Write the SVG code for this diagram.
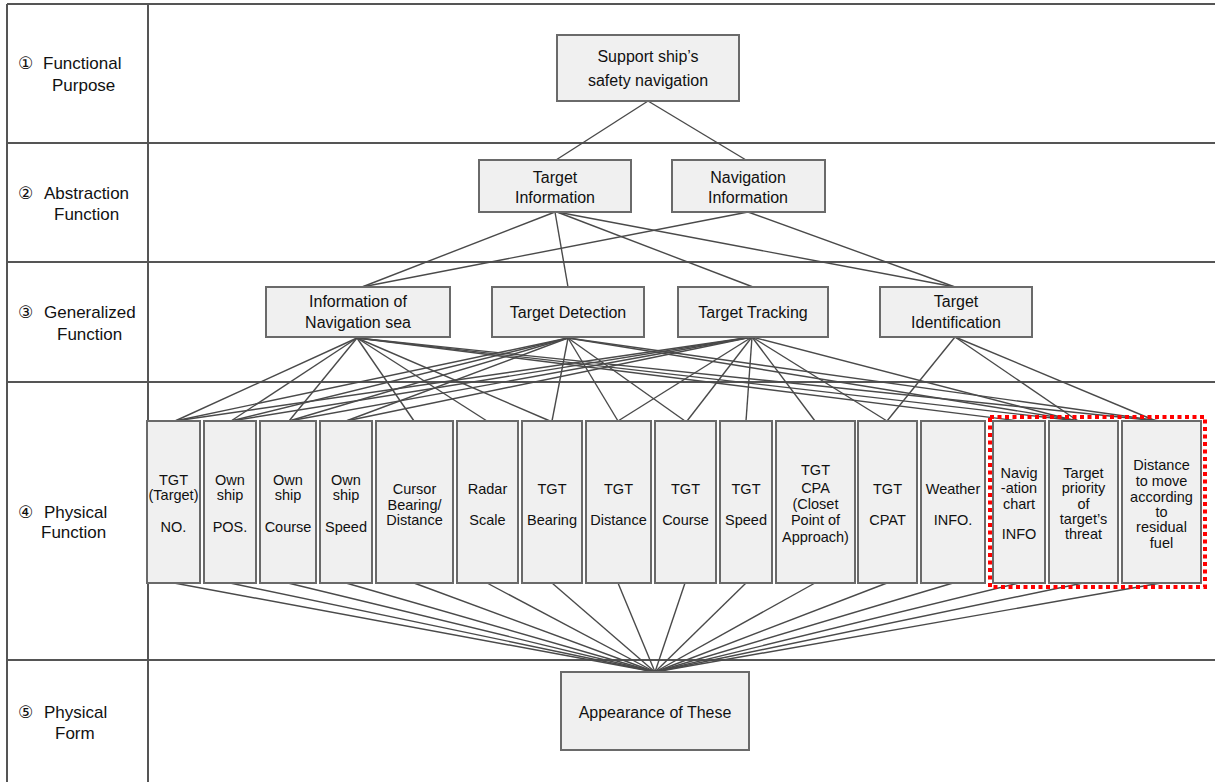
<svg xmlns="http://www.w3.org/2000/svg" width="1215" height="782" viewBox="0 0 1215 782">
<defs>
<style>
.grid{stroke:#555;stroke-width:2;fill:none}
.box{fill:#f0f0f0;stroke:#6a6a6a;stroke-width:2}
.t{font-family:"Liberation Sans",Arial,"DejaVu Sans",sans-serif;font-size:16px;fill:#111;text-anchor:middle}
.s{font-family:"Liberation Sans",Arial,"DejaVu Sans",sans-serif;font-size:14.5px;fill:#111;text-anchor:middle}
.lab{font-family:"Liberation Sans",Arial,"DejaVu Sans",sans-serif;font-size:17px;fill:#111}
.c line{stroke:#4a4a4a;stroke-width:1.4}
</style>
</defs>
<rect width="1215" height="782" fill="#fff"/>
<g id="grid" class="grid">
<line x1="7" y1="4" x2="1215" y2="4"/>
<line x1="7" y1="4" x2="7" y2="782"/>
<line x1="148" y1="4" x2="148" y2="782"/>
<line x1="7" y1="143" x2="1215" y2="143"/>
<line x1="7" y1="262" x2="1215" y2="262"/>
<line x1="7" y1="382" x2="1215" y2="382"/>
<line x1="7" y1="660" x2="1215" y2="660"/>
</g>
<g id="row-labels">
<text class="lab" x="18" y="69">①</text><text class="lab" x="43" y="69">Functional</text><text class="lab" x="52" y="91">Purpose</text>
<text class="lab" x="18" y="199">②</text><text class="lab" x="44" y="199">Abstraction</text><text class="lab" x="54" y="220">Function</text>
<text class="lab" x="18" y="318">③</text><text class="lab" x="44" y="318">Generalized</text><text class="lab" x="57" y="340">Function</text>
<text class="lab" x="18" y="518">④</text><text class="lab" x="44" y="518">Physical</text><text class="lab" x="41" y="538">Function</text>
<text class="lab" x="18" y="718">⑤</text><text class="lab" x="44" y="718">Physical</text><text class="lab" x="55" y="739">Form</text>
</g>
<g id="connectors" class="c">
<line x1="648" y1="101" x2="556" y2="160"/><line x1="648" y1="101" x2="746" y2="160"/>
<line x1="555" y1="212" x2="362" y2="287"/><line x1="555" y1="212" x2="568" y2="287"/>
<line x1="557" y1="212" x2="753" y2="287"/><line x1="557" y1="212" x2="955" y2="287"/>
<line x1="748" y1="212" x2="362" y2="287"/><line x1="748" y1="212" x2="955" y2="287"/>
<line x1="357" y1="338" x2="175" y2="421"/><line x1="357" y1="338" x2="231" y2="421"/>
<line x1="357" y1="338" x2="289" y2="421"/><line x1="357" y1="338" x2="414" y2="421"/>
<line x1="357" y1="338" x2="487" y2="421"/><line x1="357" y1="338" x2="550" y2="421"/>
<line x1="357" y1="338" x2="1019" y2="421"/><line x1="357" y1="338" x2="1078" y2="421"/>
<line x1="357" y1="338" x2="1158" y2="421"/>
<line x1="568" y1="338" x2="175" y2="421"/><line x1="568" y1="338" x2="231" y2="421"/>
<line x1="568" y1="338" x2="289" y2="421"/><line x1="568" y1="338" x2="346" y2="421"/>
<line x1="568" y1="338" x2="552" y2="421"/><line x1="568" y1="338" x2="618" y2="421"/>
<line x1="568" y1="338" x2="685" y2="421"/><line x1="568" y1="338" x2="1080" y2="421"/>
<line x1="568" y1="338" x2="1160" y2="421"/>
<line x1="752" y1="337" x2="175" y2="421"/><line x1="752" y1="337" x2="231" y2="421"/>
<line x1="752" y1="337" x2="289" y2="421"/><line x1="752" y1="337" x2="346" y2="421"/>
<line x1="752" y1="337" x2="618" y2="421"/><line x1="752" y1="337" x2="687" y2="421"/>
<line x1="752" y1="337" x2="746" y2="421"/><line x1="752" y1="337" x2="815" y2="421"/>
<line x1="752" y1="337" x2="887" y2="421"/><line x1="752" y1="337" x2="1076" y2="421"/>
<line x1="955" y1="337" x2="887" y2="421"/><line x1="955" y1="337" x2="1078" y2="421"/>
<line x1="955" y1="337" x2="1156" y2="421"/>
<line x1="174" y1="583" x2="655" y2="672"/><line x1="230" y1="583" x2="655" y2="672"/>
<line x1="288" y1="583" x2="655" y2="672"/><line x1="346" y1="583" x2="655" y2="672"/>
<line x1="414" y1="583" x2="655" y2="672"/><line x1="487" y1="583" x2="655" y2="672"/>
<line x1="552" y1="583" x2="655" y2="672"/><line x1="618" y1="583" x2="655" y2="672"/>
<line x1="685" y1="583" x2="655" y2="672"/><line x1="746" y1="583" x2="655" y2="672"/>
<line x1="815" y1="583" x2="655" y2="672"/><line x1="887" y1="583" x2="655" y2="672"/>
<line x1="953" y1="583" x2="655" y2="672"/><line x1="1019" y1="583" x2="655" y2="672"/>
<line x1="1083" y1="583" x2="655" y2="672"/><line x1="1161" y1="583" x2="655" y2="672"/>
</g>
<g id="n-purpose"><rect class="box" x="557" y="35" width="182" height="66"/><text class="t" x="648" y="62">Support ship’s</text><text class="t" x="648" y="86">safety navigation</text></g>
<g id="n-target-info"><rect class="box" x="479" y="160" width="152" height="52"/><text class="t" x="555" y="183">Target</text><text class="t" x="555" y="203">Information</text></g>
<g id="n-nav-info"><rect class="box" x="672" y="160" width="153" height="52"/><text class="t" x="748" y="183">Navigation</text><text class="t" x="748" y="203">Information</text></g>
<g id="n-info-sea"><rect class="box" x="266" y="287" width="184" height="50"/><text class="t" x="358" y="307">Information of</text><text class="t" x="358" y="328">Navigation sea</text></g>
<g id="n-detection"><rect class="box" x="492" y="287" width="152" height="50"/><text class="t" x="568" y="318">Target Detection</text></g>
<g id="n-tracking"><rect class="box" x="678" y="287" width="150" height="50"/><text class="t" x="753" y="318">Target Tracking</text></g>
<g id="n-ident"><rect class="box" x="880" y="287" width="152" height="50"/><text class="t" x="956" y="307">Target</text><text class="t" x="956" y="328">Identification</text></g>
<g id="p1"><rect class="box" x="147" y="421" width="53" height="162"/><text class="s" x="173.5" y="485">TGT</text><text class="s" x="173.5" y="500">(Target)</text><text class="s" x="173.5" y="532">NO.</text></g>
<g id="p2"><rect class="box" x="204" y="421" width="52" height="162"/><text class="s" x="230" y="485">Own</text><text class="s" x="230" y="500">ship</text><text class="s" x="230" y="532">POS.</text></g>
<g id="p3"><rect class="box" x="260" y="421" width="56" height="162"/><text class="s" x="288" y="485">Own</text><text class="s" x="288" y="500">ship</text><text class="s" x="288" y="532">Course</text></g>
<g id="p4"><rect class="box" x="320" y="421" width="52" height="162"/><text class="s" x="346" y="485">Own</text><text class="s" x="346" y="500">ship</text><text class="s" x="346" y="532">Speed</text></g>
<g id="p5"><rect class="box" x="376" y="421" width="77" height="162"/><text class="s" x="414.5" y="494">Cursor</text><text class="s" x="414.5" y="510">Bearing/</text><text class="s" x="414.5" y="525">Distance</text></g>
<g id="p6"><rect class="box" x="457" y="421" width="61" height="162"/><text class="s" x="487.5" y="494">Radar</text><text class="s" x="487.5" y="525">Scale</text></g>
<g id="p7"><rect class="box" x="522" y="421" width="60" height="162"/><text class="s" x="552" y="494">TGT</text><text class="s" x="552" y="525">Bearing</text></g>
<g id="p8"><rect class="box" x="586" y="421" width="65" height="162"/><text class="s" x="618.5" y="494">TGT</text><text class="s" x="618.5" y="525">Distance</text></g>
<g id="p9"><rect class="box" x="655" y="421" width="61" height="162"/><text class="s" x="685.5" y="494">TGT</text><text class="s" x="685.5" y="525">Course</text></g>
<g id="p10"><rect class="box" x="720" y="421" width="52" height="162"/><text class="s" x="746" y="494">TGT</text><text class="s" x="746" y="525">Speed</text></g>
<g id="p11"><rect class="box" x="776" y="421" width="79" height="162"/><text class="s" x="815.5" y="475">TGT</text><text class="s" x="815.5" y="493">CPA</text><text class="s" x="815.5" y="509">(Closet</text><text class="s" x="815.5" y="525">Point of</text><text class="s" x="815.5" y="542">Approach)</text></g>
<g id="p12"><rect class="box" x="858" y="421" width="59" height="162"/><text class="s" x="887.5" y="494">TGT</text><text class="s" x="887.5" y="525">CPAT</text></g>
<g id="p13"><rect class="box" x="921" y="421" width="64" height="162"/><text class="s" x="953" y="494">Weather</text><text class="s" x="953" y="525">INFO.</text></g>
<g id="p14"><rect class="box" x="993" y="421" width="52" height="162"/><text class="s" x="1019" y="478">Navig</text><text class="s" x="1019" y="493">-ation</text><text class="s" x="1019" y="509">chart</text><text class="s" x="1019" y="539">INFO</text></g>
<g id="p15"><rect class="box" x="1049" y="421" width="69" height="162"/><text class="s" x="1083.5" y="478">Target</text><text class="s" x="1083.5" y="493">priority</text><text class="s" x="1083.5" y="509">of</text><text class="s" x="1083.5" y="524">target’s</text><text class="s" x="1083.5" y="539">threat</text></g>
<g id="p16"><rect class="box" x="1122" y="421" width="79" height="162"/><text class="s" x="1161.5" y="470">Distance</text><text class="s" x="1161.5" y="486">to move</text><text class="s" x="1161.5" y="502">according</text><text class="s" x="1161.5" y="517">to</text><text class="s" x="1161.5" y="532">residual</text><text class="s" x="1161.5" y="548">fuel</text></g>
<g id="highlight"><rect x="990" y="417" width="215" height="170" fill="none" stroke="#ff0000" stroke-width="4" stroke-dasharray="4 3.5"/></g>
<g id="n-form"><rect class="box" x="561" y="672" width="188" height="78"/><text class="t" x="655" y="718">Appearance of These</text></g>
</svg>
